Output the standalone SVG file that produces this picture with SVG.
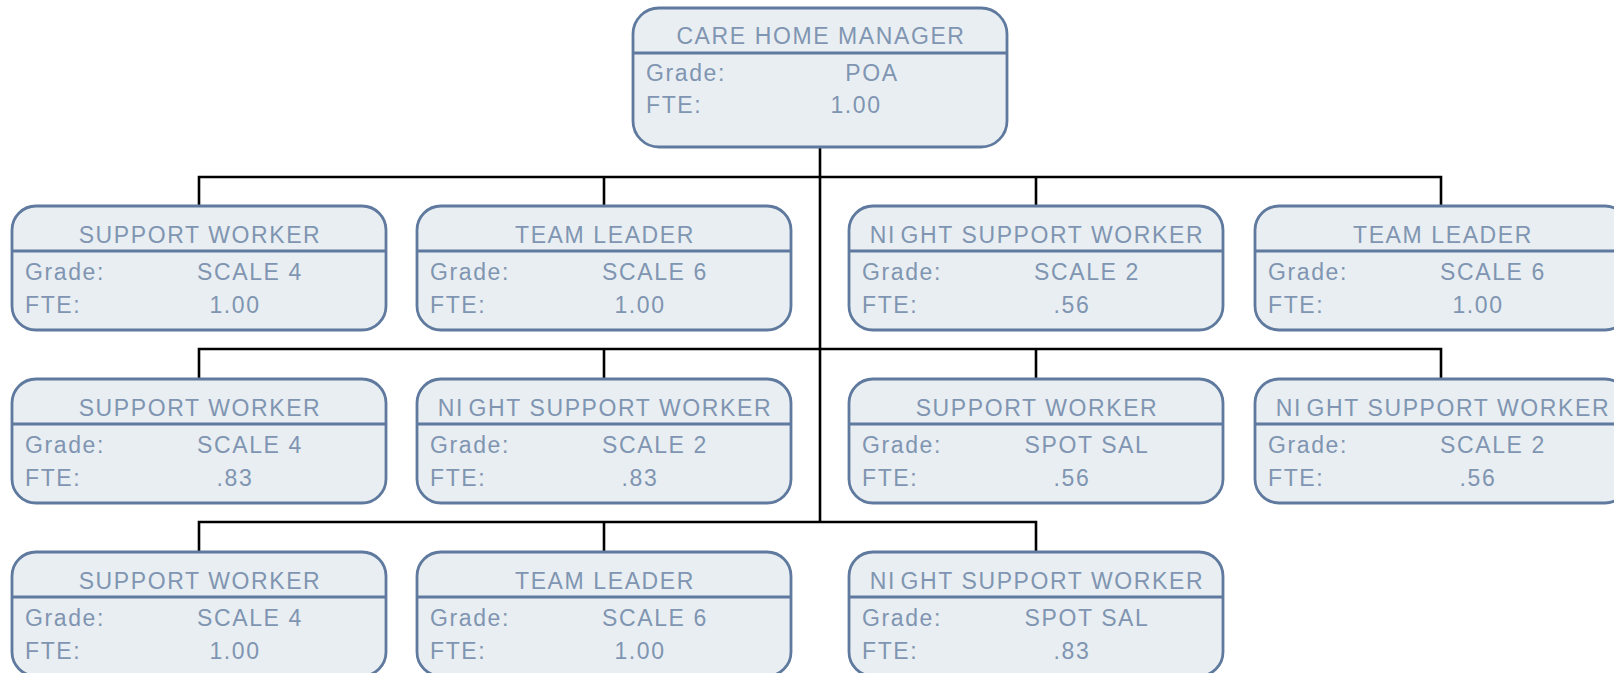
<svg xmlns="http://www.w3.org/2000/svg" width="1614" height="673" viewBox="0 0 1614 673">
<style>
.box{fill:#e9eef2;stroke:#5f7a9e;stroke-width:2.8}
.div{stroke:#5f7a9e;stroke-width:2.8}
text{font-family:"Liberation Sans",Arial,sans-serif;font-size:23px;fill:#7f95b1;letter-spacing:1.6px}
.t{text-anchor:middle}
.v{text-anchor:middle}
.con{fill:none;stroke:#000;stroke-width:2.6}
</style>
<g id="connectors" class="con">
<path d="M820 147V522"/>
<path d="M199 206V177H1441V206M604 177V206M1036 177V206"/>
<path d="M199 379V349H1441V379M604 349V379M1036 349V379"/>
<path d="M199 552V522H1036V552M604 522V552"/>
</g>
<g id="manager" transform="translate(633,8)">
<rect class="box" x="0" y="0" width="374" height="139" rx="26"/>
<line class="div" x1="0" y1="45" x2="374" y2="45"/>
<text class="t" x="188" y="36">CARE HOME MANAGER</text>
<text x="13" y="73">Grade:</text><text class="v" x="239" y="73">POA</text>
<text x="13" y="105">FTE:</text><text class="v" x="223" y="105">1.00</text>
</g>
<g id="r1c1" transform="translate(12,206)">
<rect class="box" width="374" height="124" rx="24"/>
<line class="div" x1="0" y1="45" x2="374" y2="45"/>
<text class="t" x="188" y="37">SUPPORT WORKER</text>
<text x="13" y="74">Grade:</text><text class="v" x="238" y="74">SCALE 4</text>
<text x="13" y="107">FTE:</text><text class="v" x="223" y="107">1.00</text>
</g>
<g id="r1c2" transform="translate(417,206)">
<rect class="box" width="374" height="124" rx="24"/>
<line class="div" x1="0" y1="45" x2="374" y2="45"/>
<text class="t" x="188" y="37">TEAM LEADER</text>
<text x="13" y="74">Grade:</text><text class="v" x="238" y="74">SCALE 6</text>
<text x="13" y="107">FTE:</text><text class="v" x="223" y="107">1.00</text>
</g>
<g id="r1c3" transform="translate(849,206)">
<rect class="box" width="374" height="124" rx="24"/>
<line class="div" x1="0" y1="45" x2="374" y2="45"/>
<text class="t" x="188" y="37">NI<tspan dx="4.5">GHT</tspan> SUPPORT WORKER</text>
<text x="13" y="74">Grade:</text><text class="v" x="238" y="74">SCALE 2</text>
<text x="13" y="107">FTE:</text><text class="v" x="223" y="107">.56</text>
</g>
<g id="r1c4" transform="translate(1255,206)">
<rect class="box" width="374" height="124" rx="24"/>
<line class="div" x1="0" y1="45" x2="374" y2="45"/>
<text class="t" x="188" y="37">TEAM LEADER</text>
<text x="13" y="74">Grade:</text><text class="v" x="238" y="74">SCALE 6</text>
<text x="13" y="107">FTE:</text><text class="v" x="223" y="107">1.00</text>
</g>
<g id="r2c1" transform="translate(12,379)">
<rect class="box" width="374" height="124" rx="24"/>
<line class="div" x1="0" y1="45" x2="374" y2="45"/>
<text class="t" x="188" y="37">SUPPORT WORKER</text>
<text x="13" y="74">Grade:</text><text class="v" x="238" y="74">SCALE 4</text>
<text x="13" y="107">FTE:</text><text class="v" x="223" y="107">.83</text>
</g>
<g id="r2c2" transform="translate(417,379)">
<rect class="box" width="374" height="124" rx="24"/>
<line class="div" x1="0" y1="45" x2="374" y2="45"/>
<text class="t" x="188" y="37">NI<tspan dx="4.5">GHT</tspan> SUPPORT WORKER</text>
<text x="13" y="74">Grade:</text><text class="v" x="238" y="74">SCALE 2</text>
<text x="13" y="107">FTE:</text><text class="v" x="223" y="107">.83</text>
</g>
<g id="r2c3" transform="translate(849,379)">
<rect class="box" width="374" height="124" rx="24"/>
<line class="div" x1="0" y1="45" x2="374" y2="45"/>
<text class="t" x="188" y="37">SUPPORT WORKER</text>
<text x="13" y="74">Grade:</text><text class="v" x="238" y="74">SPOT SAL</text>
<text x="13" y="107">FTE:</text><text class="v" x="223" y="107">.56</text>
</g>
<g id="r2c4" transform="translate(1255,379)">
<rect class="box" width="374" height="124" rx="24"/>
<line class="div" x1="0" y1="45" x2="374" y2="45"/>
<text class="t" x="188" y="37">NI<tspan dx="4.5">GHT</tspan> SUPPORT WORKER</text>
<text x="13" y="74">Grade:</text><text class="v" x="238" y="74">SCALE 2</text>
<text x="13" y="107">FTE:</text><text class="v" x="223" y="107">.56</text>
</g>
<g id="r3c1" transform="translate(12,552)">
<rect class="box" width="374" height="124" rx="24"/>
<line class="div" x1="0" y1="45" x2="374" y2="45"/>
<text class="t" x="188" y="37">SUPPORT WORKER</text>
<text x="13" y="74">Grade:</text><text class="v" x="238" y="74">SCALE 4</text>
<text x="13" y="107">FTE:</text><text class="v" x="223" y="107">1.00</text>
</g>
<g id="r3c2" transform="translate(417,552)">
<rect class="box" width="374" height="124" rx="24"/>
<line class="div" x1="0" y1="45" x2="374" y2="45"/>
<text class="t" x="188" y="37">TEAM LEADER</text>
<text x="13" y="74">Grade:</text><text class="v" x="238" y="74">SCALE 6</text>
<text x="13" y="107">FTE:</text><text class="v" x="223" y="107">1.00</text>
</g>
<g id="r3c3" transform="translate(849,552)">
<rect class="box" width="374" height="124" rx="24"/>
<line class="div" x1="0" y1="45" x2="374" y2="45"/>
<text class="t" x="188" y="37">NI<tspan dx="4.5">GHT</tspan> SUPPORT WORKER</text>
<text x="13" y="74">Grade:</text><text class="v" x="238" y="74">SPOT SAL</text>
<text x="13" y="107">FTE:</text><text class="v" x="223" y="107">.83</text>
</g>
</svg>
